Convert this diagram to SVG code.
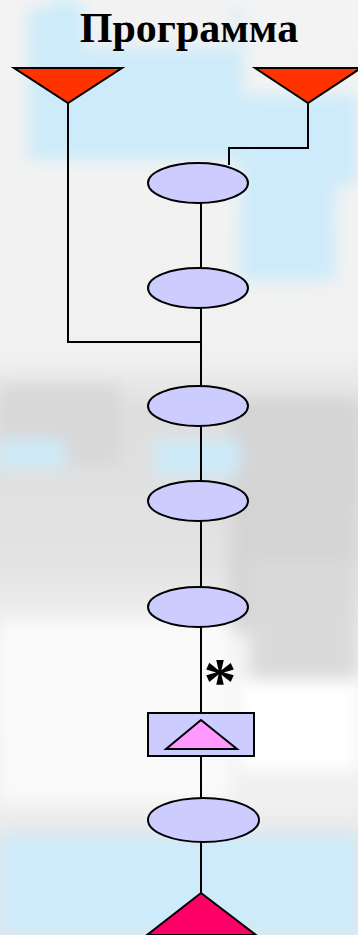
<svg xmlns="http://www.w3.org/2000/svg" width="358" height="935" viewBox="0 0 358 935">
  <defs>
    <style>
      .node { fill: #CCCCFF; stroke: #000; stroke-width: 2; }
      .wire { fill: none; stroke: #000; stroke-width: 2; }
      .title { font-family: "Liberation Serif", "Times New Roman", serif; font-weight: bold; font-size: 42px; fill: #000; }
      .mark { font-family: "Liberation Serif", "Times New Roman", serif; font-weight: bold; font-size: 66px; fill: #000; }
      .sky { fill: #CDEBFA; }
    </style>
    <linearGradient id="cloud" x1="0" y1="0" x2="0" y2="1">
      <stop offset="0" stop-color="#F3F3F3"/>
      <stop offset="0.38" stop-color="#F1F1F1"/>
      <stop offset="0.44" stop-color="#DEDEDE"/>
      <stop offset="0.6" stop-color="#E3E3E3"/>
      <stop offset="0.7" stop-color="#F4F4F4"/>
      <stop offset="0.86" stop-color="#F0F0F0"/>
      <stop offset="0.9" stop-color="#E6E6E6"/>
      <stop offset="1" stop-color="#E6E6E6"/>
    </linearGradient>
    <filter id="soft" x="-10%" y="-10%" width="120%" height="120%">
      <feGaussianBlur stdDeviation="8"/>
    </filter>
  </defs>

  <!-- backdrop: pale sky with grey cloud bands -->
  <g id="backdrop">
    <rect width="358" height="935" fill="url(#cloud)"/>
    <g filter="url(#soft)">
      <rect class="sky" x="28" y="8" width="215" height="152"/>
      <rect class="sky" x="50" y="0" width="30" height="30"/>
      <rect class="sky" x="240" y="95" width="118" height="90"/>
      <rect class="sky" x="240" y="180" width="95" height="100"/>
      <rect fill="#F2F2F2" x="85" y="0" width="150" height="48"/>
      <rect fill="#D8D8D8" x="0" y="385" width="120" height="80"/>
      <rect fill="#D4D4D4" x="230" y="400" width="128" height="230"/>
      <rect fill="#DADADA" x="250" y="560" width="108" height="120"/>
      <rect class="sky" x="0" y="440" width="65" height="28"/>
      <rect class="sky" x="155" y="440" width="85" height="35"/>
      <rect fill="#FAFAFA" x="0" y="620" width="230" height="180"/>
      <rect fill="#FFFFFF" x="240" y="680" width="118" height="90"/>
      <rect class="sky" x="0" y="835" width="358" height="100"/>
    </g>
  </g>

  <text class="title" x="189" y="42" text-anchor="middle">Программа</text>

  <!-- connectors -->
  <g id="connectors">
    <polyline class="wire" points="68,103 68,342 201,342"/>
    <polyline class="wire" points="308,103 308,148 229,148 229,165"/>
    <line class="wire" x1="201" y1="203" x2="201" y2="268"/>
    <line class="wire" x1="201" y1="308" x2="201" y2="386"/>
    <line class="wire" x1="201" y1="426" x2="201" y2="481"/>
    <line class="wire" x1="201" y1="521" x2="201" y2="587"/>
    <line class="wire" x1="201" y1="627" x2="201" y2="713"/>
    <line class="wire" x1="201" y1="756" x2="201" y2="798"/>
    <line class="wire" x1="201" y1="842" x2="201" y2="893"/>
    <text class="mark" x="220" y="703" text-anchor="middle">*</text>
  </g>

  <g id="input-left">
    <polygon points="14,68 122,68 68,103" fill="#FF3300" stroke="#000" stroke-width="2"/>
  </g>
  <g id="input-right">
    <polygon points="255,68 361,68 308,103" fill="#FF3300" stroke="#000" stroke-width="2"/>
  </g>

  <g id="step-1"><ellipse class="node" cx="198" cy="183" rx="50" ry="20"/></g>
  <g id="step-2"><ellipse class="node" cx="198" cy="288" rx="50" ry="20"/></g>
  <g id="step-3"><ellipse class="node" cx="198" cy="406" rx="50" ry="20"/></g>
  <g id="step-4"><ellipse class="node" cx="198" cy="501" rx="50" ry="20"/></g>
  <g id="step-5"><ellipse class="node" cx="198" cy="607" rx="50" ry="20"/></g>

  <g id="loop-block">
    <rect class="node" x="148" y="713" width="106" height="43"/>
    <polygon points="201,720 166,749 237,749" fill="#FF99FF" stroke="#000" stroke-width="2"/>
  </g>

  <g id="step-6"><ellipse class="node" cx="203.5" cy="820" rx="55.5" ry="22"/></g>

  <g id="output">
    <polygon points="201,893 147,935 256,935" fill="#FF0066" stroke="#000" stroke-width="2"/>
  </g>
</svg>
